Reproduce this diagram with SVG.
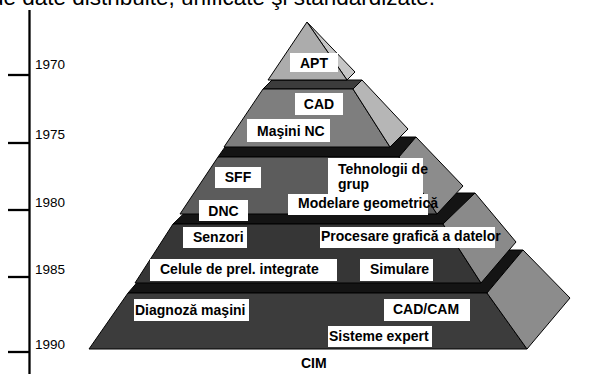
<svg xmlns="http://www.w3.org/2000/svg" width="591" height="374" viewBox="0 0 591 374">
<style>
.f{stroke:#000;stroke-width:1;stroke-linejoin:round}
.top{fill:#141414}
.box{fill:#fff}
.lbl{font-family:"Liberation Sans",Arial,sans-serif;font-weight:bold;font-size:14px;fill:#000}
.yr{font-family:"Liberation Sans",Arial,sans-serif;font-size:13.5px;fill:#000}
.ax{stroke:#000;stroke-width:2.3;fill:none}
</style>
<rect width="591" height="374" fill="#fff"/>
<text x="435" y="5" text-anchor="end" font-family="Liberation Sans, Arial, sans-serif" font-size="22.5" fill="#000">de date distribuite, unificate şi standardizate.</text>

<g id="timeline">
<line class="ax" x1="29.5" y1="10" x2="29.5" y2="374"/>
<line class="ax" x1="8" y1="75" x2="29" y2="75"/>
<line class="ax" x1="8" y1="143" x2="29" y2="143"/>
<line class="ax" x1="8" y1="210" x2="29" y2="210"/>
<line class="ax" x1="8" y1="277" x2="29" y2="277"/>
<line class="ax" x1="8" y1="352" x2="29" y2="352"/>
<text class="yr" x="35" y="69">1970</text>
<text class="yr" x="35" y="139">1975</text>
<text class="yr" x="35" y="207">1980</text>
<text class="yr" x="35" y="274">1985</text>
<text class="yr" x="35" y="349">1990</text>
</g>

<g id="tier5">
<polygon class="f top" points="128,293 487,293 523,250 165,250"/>
<polygon class="f" fill="#3c3c3c" points="128,293 487,293 527,349 89,349"/>
<polygon class="f" fill="#8c8c8c" points="487,293 523,250 570,298 527,349"/>
</g>
<g id="tier4">
<polygon class="f top" points="173,224 443,224 475,193 205,193"/>
<polygon class="f" fill="#363636" points="173,224 443,224 481,283 135,283"/>
<polygon class="f" fill="#8a8a8a" points="443,224 475,193 516,242 481,283"/>
</g>
<g id="tier3">
<polygon class="f top" points="218,157 399,157 416,137 232,137"/>
<polygon class="f" fill="#5c5c5c" points="218,157 399,157 437,214 180,214"/>
<polygon class="f" fill="#8c8c8c" points="399,157 416,137 463,186 437,214"/>
</g>
<g id="tier2">
<polygon class="f" fill="#3c3c3c" points="263,89 353,89 362,80 272,80"/>
<polygon class="f" fill="#7e7e7e" points="263,89 353,89 390,147 224,147"/>
<polygon class="f" fill="#b6b6b6" points="353,89 362,80 408,129 390,147"/>
</g>
<g id="tier1">
<polygon class="f" fill="#c6c6c6" points="307,22 355,72 347,80"/>
<polygon class="f" fill="#acacac" points="307,22 347,80 268,80"/>
</g>

<g id="apt"><rect class="box" x="290" y="53" width="48" height="19"/><text class="lbl" x="314" y="67.5" text-anchor="middle">APT</text></g>
<g id="cad"><rect class="box" x="295" y="93" width="48" height="22"/><text class="lbl" x="319" y="109" text-anchor="middle">CAD</text></g>
<g id="masini-nc"><rect class="box" x="247" y="119" width="83" height="23"/><text class="lbl" x="257" y="136">Maşini NC</text></g>
<g id="sff"><rect class="box" x="215" y="167" width="46" height="21"/><text class="lbl" x="238" y="182" text-anchor="middle">SFF</text></g>
<g id="dnc"><rect class="box" x="199" y="200" width="49" height="21"/><text class="lbl" x="223.5" y="215.5" text-anchor="middle">DNC</text></g>
<g id="tehnologii"><rect class="box" x="328" y="158" width="95" height="36"/><text class="lbl" x="338" y="174">Tehnologii de</text><text class="lbl" x="338" y="188.5">grup</text></g>
<g id="modelare"><rect class="box" x="288" y="194" width="140" height="21"/><text class="lbl" x="298" y="208">Modelare geometrică</text></g>
<g id="senzori"><rect class="box" x="183" y="227" width="64" height="21"/><text class="lbl" x="193" y="242">Senzori</text></g>
<g id="procesare"><rect class="box" x="320" y="227" width="175" height="21"/><text class="lbl" x="321" y="241">Procesare grafică a datelor</text></g>
<g id="celule"><rect class="box" x="150" y="259" width="187" height="22"/><text class="lbl" x="160" y="274">Celule de prel. integrate</text></g>
<g id="simulare"><rect class="box" x="360" y="259" width="73" height="22"/><text class="lbl" x="370" y="274">Simulare</text></g>
<g id="diagnoza"><rect class="box" x="134" y="299" width="115" height="22"/><text class="lbl" x="135" y="315">Diagnoză maşini</text></g>
<g id="cadcam"><rect class="box" x="384" y="299" width="86" height="22"/><text class="lbl" x="393" y="314">CAD/CAM</text></g>
<g id="sisteme"><rect class="box" x="328" y="326" width="104" height="21"/><text class="lbl" x="329" y="341">Sisteme expert</text></g>
<g id="cim"><text class="lbl" x="301" y="368" font-size="13">CIM</text></g>
</svg>
